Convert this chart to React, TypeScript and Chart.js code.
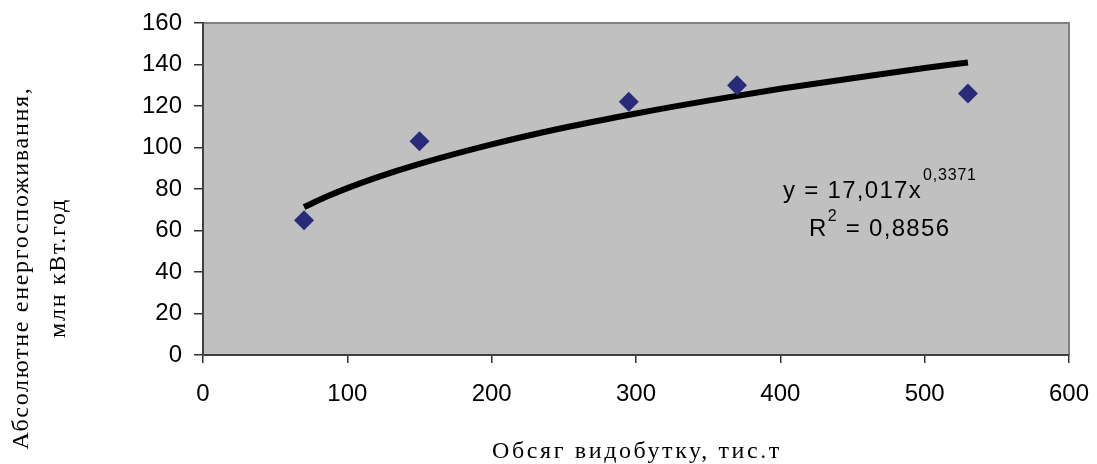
import { useEffect, useRef } from 'react';
import { Chart, registerables } from 'chart.js';

Chart.register(...registerables);

// Observed data points
const xValues = [70, 150, 295, 370, 530];
const yValues = [65, 103, 122, 130, 126];

// Trend line
const trendX = [70, 85, 100, 120, 150, 200, 250, 300, 350, 400, 450, 500, 530];
const trendY = [71.3, 76.1, 80.4, 85.5, 92.1, 101.5, 109.5, 116.4, 122.6, 128.3, 133.4, 138.3, 141.0];

const xTicks = [0, 100, 200, 300, 400, 500, 600];
const yTicks = [0, 20, 40, 60, 80, 100, 120, 140, 160];

const xTitle = 'Обсяг видобутку, тис.т';
const yTitle = ['Абсолютне енергоспоживання,', 'млн кВт.год'];

const eqMain = 'y = 17,017x';
const eqExp = '0,3371';
const r2Base = 'R';
const r2Exp = '2';
const r2Rest = ' = 0,8856';

const TICK_FONT = { family: 'Liberation Sans, Arial', size: 24 };

const decorPlugin = {
  id: 'decor',
  beforeDraw(chart: any) {
    const { ctx, chartArea: a } = chart;
    ctx.save();
    ctx.fillStyle = '#C0C0C0';
    ctx.fillRect(a.left, a.top, a.right - a.left, a.bottom - a.top);
    ctx.strokeStyle = '#808080';
    ctx.lineWidth = 2;
    ctx.beginPath();
    ctx.moveTo(a.left, a.top);
    ctx.lineTo(a.right, a.top);
    ctx.lineTo(a.right, a.bottom);
    ctx.stroke();
    ctx.restore();
  },
  afterDraw(chart: any) {
    const { ctx, chartArea: a } = chart;
    ctx.save();
    // Equation
    ctx.fillStyle = '#000';
    ctx.textBaseline = 'alphabetic';
    ctx.textAlign = 'left';
    ctx.letterSpacing = '1.3px';
    ctx.font = '24px "Liberation Sans", Arial';
    const ex = 783;
    const ey = 198;
    ctx.fillText(eqMain, ex, ey);
    const w1 = ctx.measureText(eqMain).width;
    ctx.letterSpacing = '0.8px';
    ctx.font = '16px "Liberation Sans", Arial';
    ctx.fillText(eqExp, ex + w1 + 1, ey - 18);
    ctx.letterSpacing = '1.3px';
    ctx.font = '24px "Liberation Sans", Arial';
    const rx = 809;
    const ry = 236;
    ctx.fillText(r2Base, rx, ry);
    const wR = ctx.measureText(r2Base).width;
    ctx.font = '16px "Liberation Sans", Arial';
    ctx.fillText(r2Exp, rx + wR, ry - 15);
    const w2 = ctx.measureText(r2Exp).width;
    ctx.font = '24px "Liberation Sans", Arial';
    ctx.fillText(r2Rest, rx + wR + w2, ry);

    // Axis titles
    ctx.font = '24px "Liberation Serif", "Times New Roman", serif';
    ctx.textAlign = 'center';
    ctx.textBaseline = 'alphabetic';
    ctx.letterSpacing = '2.6px';
    ctx.fillText(xTitle, (a.left + a.right) / 2 + 1, 458);

    ctx.letterSpacing = '1.7px';
    ctx.textBaseline = 'middle';
    ctx.translate(0, 268);
    ctx.rotate(-Math.PI / 2);
    ctx.fillText(yTitle[0], 0, 22);
    ctx.fillText(yTitle[1], 0, 59);
    ctx.restore();
  },
};

export default function App() {
  const ref = useRef<HTMLCanvasElement | null>(null);
  useEffect(() => {
    if (!ref.current) return;
    const chart = new Chart(ref.current, {
      type: 'scatter',
      data: {
        datasets: [
          {
            label: 'data',
            data: xValues.map((x, i) => ({ x, y: yValues[i] })),
            pointStyle: 'rectRot',
            pointRadius: 10,
            pointBackgroundColor: '#2A2A7A',
            pointBorderColor: '#2A2A7A',
            pointBorderWidth: 0,
            showLine: false,
            order: 0,
          },
          {
            label: 'trend',
            data: trendX.map((x, i) => ({ x, y: trendY[i] })),
            showLine: true,
            borderColor: '#000',
            borderWidth: 6,
            pointRadius: 0,
            tension: 0.4,
            cubicInterpolationMode: 'monotone',
            order: 1,
          },
        ],
      },
      options: {
        animation: false,
        responsive: true,
        maintainAspectRatio: false,
        layout: { padding: { left: 0, top: 23, right: 28, bottom: 0 } },
        plugins: { legend: { display: false }, tooltip: { enabled: false } },
        scales: {
          x: {
            type: 'linear',
            min: 0,
            max: 600,
            afterBuildTicks: (s: any) => {
              s.ticks = xTicks.map((v) => ({ value: v }));
            },
            afterFit: (s: any) => {
              s.height = 109;
              s.paddingLeft = 0;
              s.paddingRight = 0;
            },
            grid: {
              drawOnChartArea: false,
              drawTicks: true,
              tickLength: 8,
              color: '#333',
              lineWidth: 1.5,
            },
            border: { display: true, color: '#404040', width: 2 },
            ticks: { color: '#000', font: TICK_FONT, padding: 17, maxRotation: 0 },
          },
          y: {
            type: 'linear',
            min: 0,
            max: 160,
            afterBuildTicks: (s: any) => {
              s.ticks = yTicks.map((v) => ({ value: v }));
            },
            afterFit: (s: any) => {
              s.width = 203;
              s.paddingTop = 0;
              s.paddingBottom = 0;
            },
            grid: {
              drawOnChartArea: false,
              drawTicks: true,
              tickLength: 9,
              color: '#333',
              lineWidth: 1.5,
            },
            border: { display: true, color: '#404040', width: 2 },
            ticks: { color: '#000', font: TICK_FONT, padding: 12 },
          },
        },
      },
      plugins: [decorPlugin],
    });
    return () => chart.destroy();
  }, []);
  return (
    <div style={{ position: 'absolute', left: 0, top: 0, width: 1097, height: 464, background: '#fff' }}>
      <canvas ref={ref} />
    </div>
  );
}
